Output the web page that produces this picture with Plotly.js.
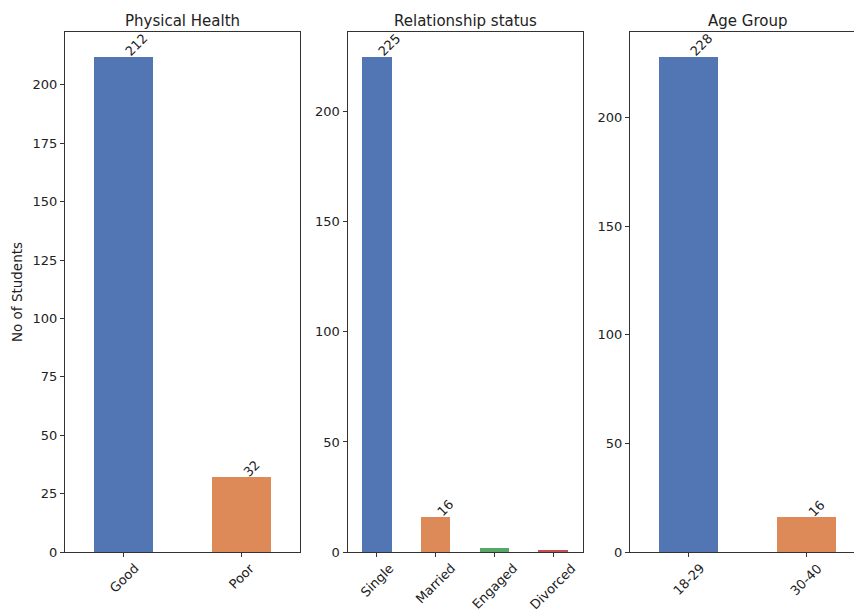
<!DOCTYPE html>
<html>
<head>
<meta charset="utf-8">
<script src="https://cdn.plot.ly/plotly-3.0.1.min.js"></script>
<style>
html,body{margin:0;padding:0;overflow:hidden;background:#fff;width:854px;height:610px;}
#chart{width:866px;height:610px;}
</style>
</head>
<body>
<div id="chart"></div>
<script>
// Data
const healthCats = ["Good", "Poor"];
const healthVals = [212, 32];
const relCats = ["Single", "Married", "Engaged", "Divorced"];
const relVals = [225, 16, 2, 1];
const ageCats = ["18-29", "30-40"];
const ageVals = [228, 16];
const panelTitles = ["Physical Health", "Relationship status", "Age Group"];
const yTitle = "No of Students";

const palette = ["#5276b3", "#dd8a58", "#55a868", "#c44e52"];
const W = 866, H = 610;
const font = "DejaVu Sans, sans-serif";

const panels = [
  {cats: healthCats, vals: healthVals, x0: 65, x1: 300, dtick: 25},
  {cats: relCats, vals: relVals, x0: 347.5, x1: 582.5, dtick: 50},
  {cats: ageCats, vals: ageVals, x0: 630, x1: 865, dtick: 50}
];
const yDom = [(H - 552) / H, (H - 32) / H];

const traces = [];
const layout = {
  width: W, height: H,
  margin: {l: 0, r: 0, t: 0, b: 0},
  paper_bgcolor: "#fff", plot_bgcolor: "#fff",
  showlegend: false,
  font: {family: font, size: 13, color: "#222"},
  annotations: [],
  bargap: 0
};

panels.forEach((p, i) => {
  const n = i === 0 ? "" : String(i + 1);
  const xa = "x" + n, ya = "y" + n;
  traces.push({
    type: "bar",
    x: p.cats.map((c, k) => k),
    y: p.vals,
    width: 0.5,
    xaxis: xa, yaxis: ya,
    marker: {color: p.cats.map((c, k) => palette[k]), line: {width: 0}},
    hoverinfo: "skip"
  });
  const maxV = Math.max(...p.vals);
  layout["xaxis" + n] = {
    domain: [p.x0 / W, p.x1 / W],
    anchor: ya,
    range: [-0.5, p.cats.length - 0.5],
    tickmode: "array",
    tickvals: p.cats.map((c, k) => k),
    showticklabels: false,
    ticks: "outside", ticklen: 4, tickcolor: "#333",
    showline: true, linecolor: "#333", linewidth: 1, mirror: true,
    showgrid: false, zeroline: false,
    automargin: false, fixedrange: true
  };
  layout["yaxis" + n] = {
    domain: yDom,
    anchor: xa,
    range: [0, maxV * 1.05],
    dtick: p.dtick, tick0: 0,
    ticks: "outside", ticklen: 4, tickcolor: "#333",
    showline: true, linecolor: "#333", linewidth: 1, mirror: true,
    showgrid: false, zeroline: false,
    tickfont: {family: font, size: 13, color: "#222"},
    automargin: false, fixedrange: true
  };
  if (i === 0) {
    layout["yaxis" + n].title = {text: yTitle, font: {family: font, size: 13.5, color: "#222"}, standoff: 6};
  }
  // category labels, rotated and centred under each tick
  p.cats.forEach((c, k) => {
    layout.annotations.push({
      xref: xa, yref: "paper", x: k, y: yDom[0],
      text: c, showarrow: false,
      textangle: -45, xanchor: "center", yanchor: "top",
      yshift: -6,
      font: {family: font, size: 13, color: "#222"}
    });
  });
  // value labels
  p.vals.forEach((v, k) => {
    if (v < 5) return;
    layout.annotations.push({
      xref: xa, yref: ya, x: k, y: v,
      text: String(v), showarrow: false,
      textangle: -45, xanchor: "left", yanchor: "bottom",
      xshift: -4, yshift: -5,
      font: {family: font, size: 13, color: "#222"}
    });
  });
  // panel title
  layout.annotations.push({
    xref: "paper", yref: "paper",
    x: (p.x0 + p.x1) / 2 / W, y: (H - 21) / H,
    text: panelTitles[i], showarrow: false,
    xanchor: "center", yanchor: "middle",
    font: {family: font, size: 15, color: "#222"}
  });
});

Plotly.newPlot("chart", traces, layout, {displayModeBar: false, staticPlot: true});
</script>
</body>
</html>
